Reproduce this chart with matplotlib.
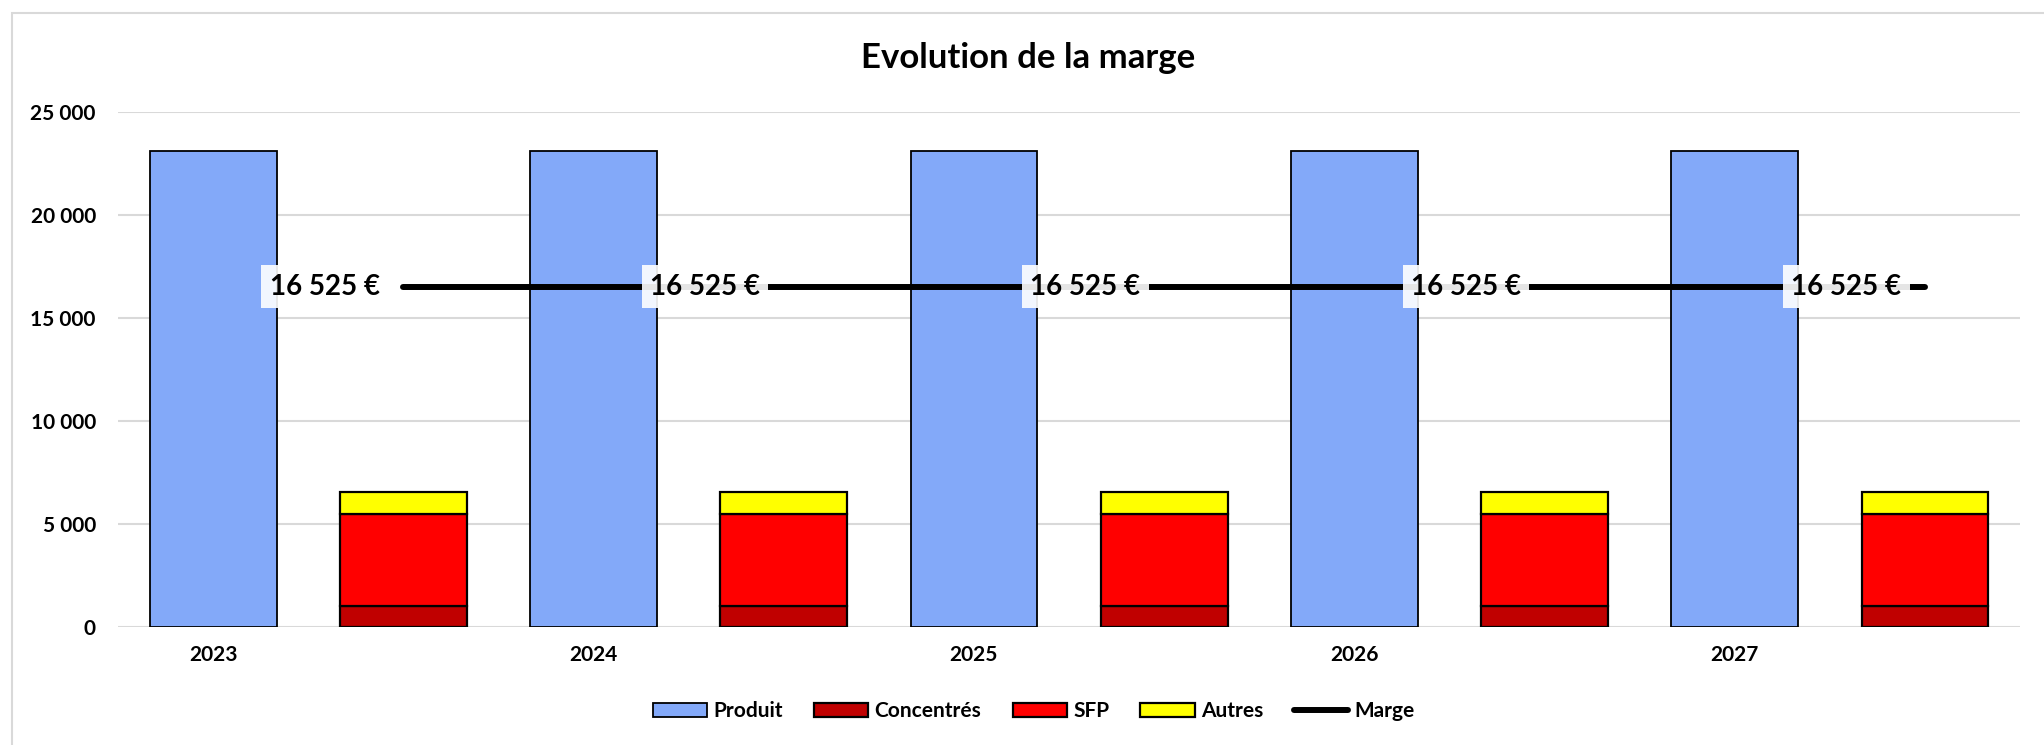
import numpy as np
import matplotlib
matplotlib.use('Agg')
import matplotlib.pyplot as plt
from matplotlib.patches import Rectangle
from matplotlib.ticker import FuncFormatter

plt.rcParams['font.family'] = ['Lato', 'DejaVu Sans']
plt.rcParams['font.weight'] = 'bold'

# data
years = ['2023', '2024', '2025', '2026', '2027']
produit = [23100, 23100, 23100, 23100, 23100]
concentres = [1000, 1000, 1000, 1000, 1000]
sfp = [4500, 4500, 4500, 4500, 4500]
autres = [1075, 1075, 1075, 1075, 1075]
marge = [16525, 16525, 16525, 16525, 16525]

c_produit = '#83A9F9'
c_conc = '#C00000'
c_sfp = '#FF0000'
c_autres = '#FFFF00'

def fmt_num(v):
    return f"{v:,.0f}".replace(',', ' ')

W, H = 2044, 745
fig = plt.figure(figsize=(W/100, H/100), dpi=100)
ax = fig.add_axes([118/W, 1-627/H, (2020-118)/W, (627-112)/H])

# 10 slots : produit on even slots, charges on odd slots
n = len(years)
xp = np.arange(n) * 2
xc = xp + 1
bw = 2/3

b1 = ax.bar(xp, produit, bw, color=c_produit, edgecolor='black', linewidth=1.3, label='Produit', zorder=2)
b2 = ax.bar(xc, concentres, bw, color=c_conc, edgecolor='black', linewidth=1.6, label='Concentrés', zorder=2)
bot = np.array(concentres)
b3 = ax.bar(xc, sfp, bw, bottom=bot, color=c_sfp, edgecolor='black', linewidth=1.6, label='SFP', zorder=2)
bot = bot + np.array(sfp)
b4 = ax.bar(xc, autres, bw, bottom=bot, color=c_autres, edgecolor='black', linewidth=1.6, label='Autres', zorder=2)

l1, = ax.plot(xc, marge, color='black', linewidth=4.3, solid_capstyle='round', label='Marge', zorder=3)
for x, v in zip(xc, marge):
    ax.annotate(fmt_num(v) + ' €', (x, v), xytext=(-17, 0), textcoords='offset points',
                ha='right', va='center', fontsize=20, fontweight='bold', zorder=4,
                bbox=dict(boxstyle='square,pad=0.3', fc='white', ec='none', alpha=0.9))

ax.set_xlim(-0.5, 2*n - 0.5)
ax.set_ylim(0, 25000)
ax.set_yticks([0, 5000, 10000, 15000, 20000, 25000])
ax.yaxis.set_major_formatter(FuncFormatter(lambda v, p: fmt_num(v)))
ax.set_xticks(xp)
ax.set_xticklabels(years)
ax.tick_params(axis='both', length=0, labelsize=15)
ax.tick_params(axis='y', pad=16)
ax.tick_params(axis='x', pad=13)
for s in ax.spines.values():
    s.set_visible(False)
ax.grid(axis='y', color='#D9D9D9', linewidth=1.5, zorder=0)
ax.set_axisbelow(True)

fig.text(1028/W, 1-58/H, 'Evolution de la marge', ha='center', va='center',
         fontsize=25, fontweight='bold')

fig.legend([b1, b2, b3, b4, l1], ['Produit', 'Concentrés', 'SFP', 'Autres', 'Marge'],
           loc='center', bbox_to_anchor=(1034/W, 1-711/H), ncol=5, frameon=False,
           fontsize=15, handlelength=2.6, handleheight=0.65, handletextpad=0.3,
           columnspacing=1.5)

fig.patches.append(Rectangle((12/W, -0.1), 1.2, 1.1-13/H, transform=fig.transFigure,
                             fill=False, edgecolor='#D9D9D9', linewidth=1.5))

fig.savefig('out.png', dpi=100)
